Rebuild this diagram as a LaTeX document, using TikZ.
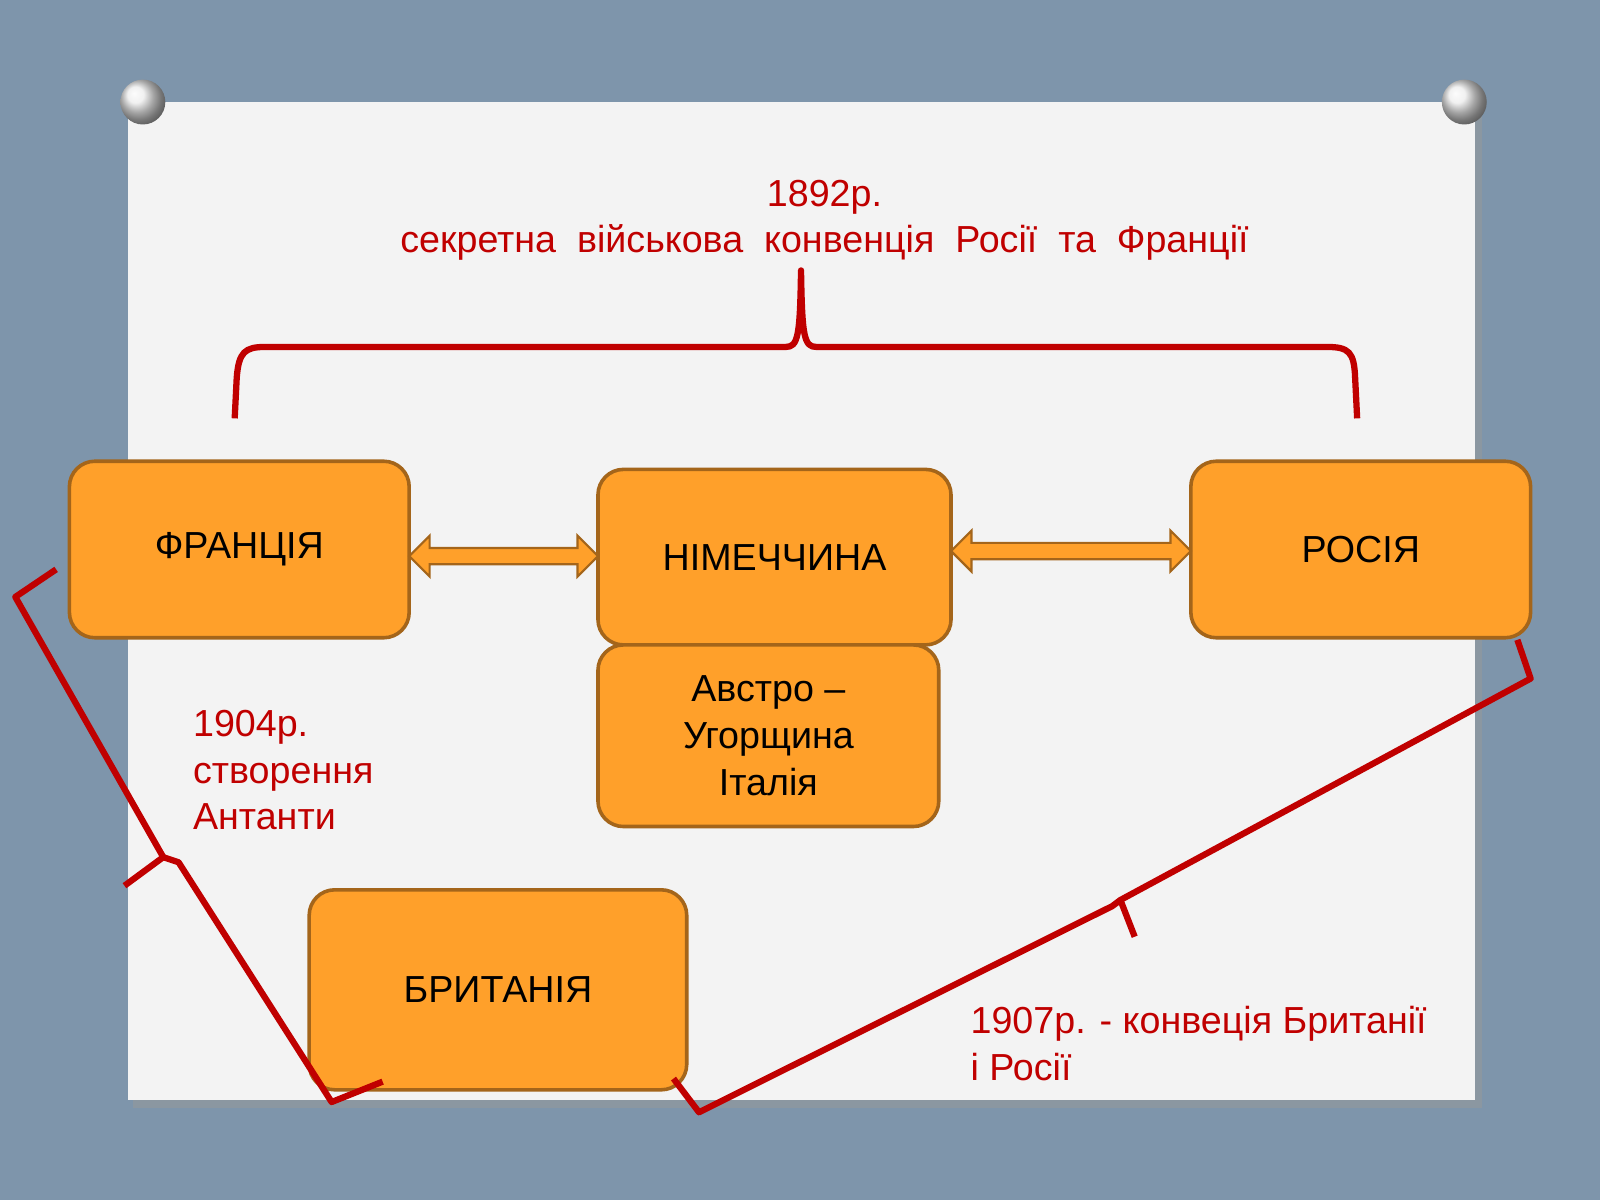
\documentclass[tikz,border=0pt]{standalone}
\usepackage{fontspec}
\setmainfont{Liberation Sans}
\definecolor{bg}{HTML}{7E95AB}
\definecolor{paper}{HTML}{F3F3F3}
\definecolor{org}{HTML}{FFA02A}
\definecolor{orgd}{HTML}{A4651A}
\definecolor{rd}{HTML}{C00000}
\begin{document}
\begin{tikzpicture}[x=0.02cm,y=-0.02cm,
 box/.style={draw=orgd,line width=2pt,fill=org,rounded corners=0.5cm,font=\fontsize{21}{26}\selectfont,align=center,inner sep=0pt},
 lab/.style={text=rd,font=\fontsize{21}{26}\selectfont,align=left},
 br/.style={draw=rd,line width=3.5pt,line join=round}]
\fill[bg] (0,0) rectangle (1568,1176);
\useasboundingbox (0,0) rectangle (1568,1176);
\fill[black!40,opacity=0.5] (130,106) rectangle (1452,1086);
\fill[paper] (125,100) rectangle (1445,1078);
\foreach \p in {(140,100),(1435,100)}{
 \shade[ball color=white!85!gray] \p circle (22);}
\node[box,minimum width=333*0.02cm,minimum height=173*0.02cm] (fr) at (234.5,538.5) {ФРАНЦІЯ};
\node[box,minimum width=346*0.02cm,minimum height=172*0.02cm] (de) at (759,546) {НІМЕЧЧИНА};
\node[box,minimum width=334*0.02cm,minimum height=178*0.02cm] (au) at (753,721) {Австро –\\Угорщина\\Італія};
\node[box,minimum width=333*0.02cm,minimum height=173*0.02cm] (ru) at (1333.5,538.5) {РОСІЯ};
\node[box,minimum width=370*0.02cm,minimum height=196*0.02cm] (gb) at (488,970) {БРИТАНІЯ};
\foreach \a/\b/\y in {401/586/545,932/1167/540}{
 \filldraw[fill=org,draw=orgd,line width=1.2pt]
 (\a,\y) -- (\a+20,\y-20) -- (\a+20,\y-8) -- (\b-20,\y-8) -- (\b-20,\y-20) -- (\b,\y)
 -- (\b-20,\y+20) -- (\b-20,\y+8) -- (\a+20,\y+8) -- (\a+20,\y+20) -- cycle;}
\draw[br] (230,410) -- (232,370) .. controls (234,345) and (240,340) .. (260,340) -- (770,340)
 .. controls (782,340) and (784,330) .. (785,265) .. controls (786,330) and (788,340) .. (800,340)
 -- (1300,340) .. controls (1322,340) and (1327,345) .. (1328,370) -- (1330,410);
\draw[br] (55,558) -- (15,585) -- (160,840) -- (122,868);
\draw[br] (160,840) -- (175,845) -- (325,1080) -- (375,1060);
\draw[br] (1487,627) -- (1500,665) -- (1098,882) -- (1112,918);
\draw[br] (1098,882) -- (1090,888) -- (685,1090) -- (660,1057);
\node[lab,align=center] (t1) at (808,216) {1892р.\\секретна\ \ військова\ \ конвенція\ \ Росії\ \ та\ \ Франції};
\node[lab,anchor=north west] (t2) at (183,690) {1904р.\\створення\\Антанти};
\node[lab,anchor=north west] (t3) at (945,980) {1907р. - конвеція Британії\\і Росії};
\end{tikzpicture}
\end{document}
